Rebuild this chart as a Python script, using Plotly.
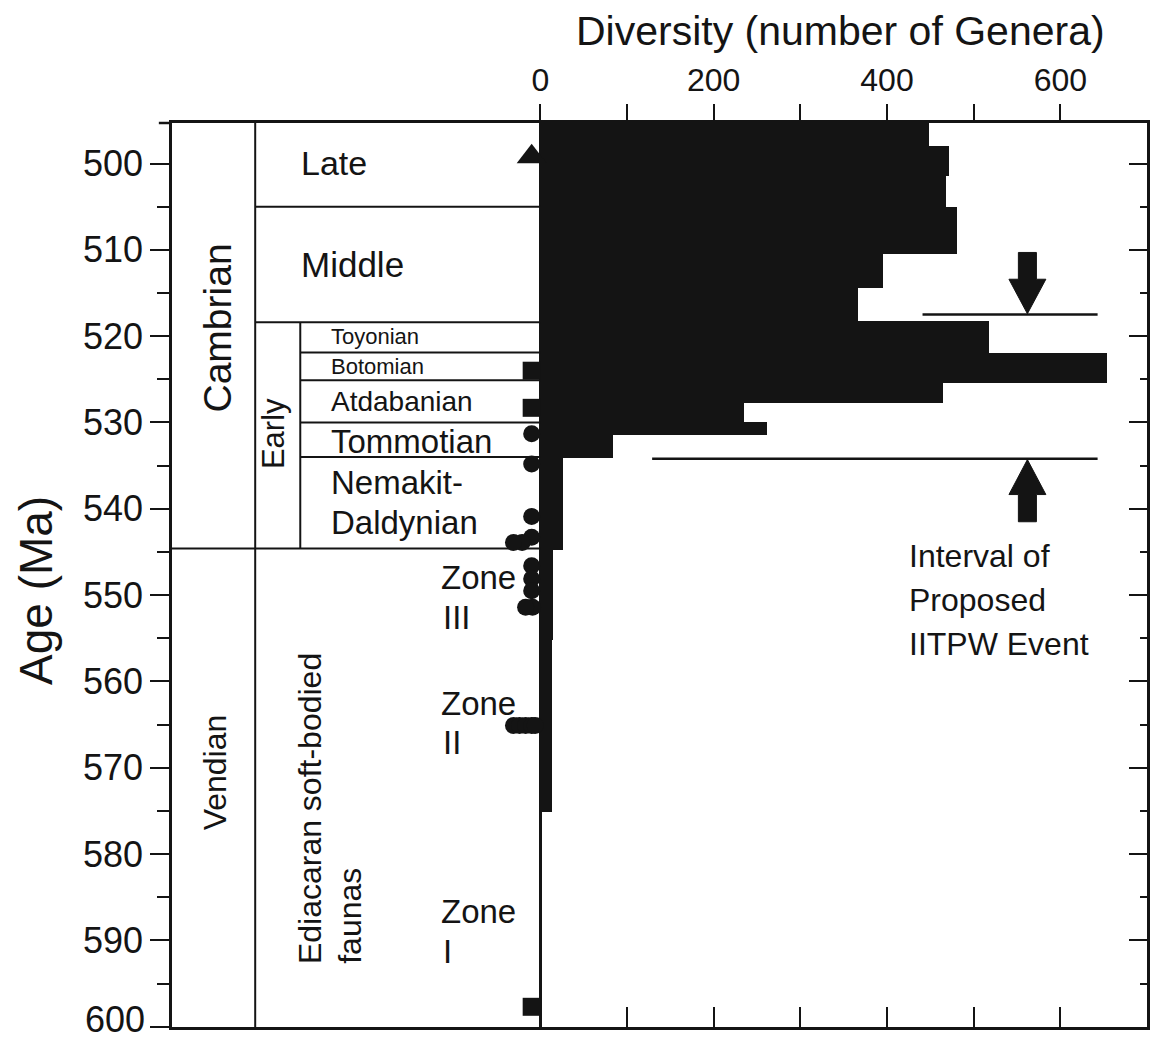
import plotly.graph_objects as go

# ---------------- data ----------------
# Diversity histogram: interval top / base (Ma) and number of genera
bin_top_ma = [495.0, 498.0, 501.4, 505.0, 510.5, 514.4, 518.2, 522.0, 525.4, 527.7, 529.9, 531.5, 534.1, 544.8, 555.2]
bin_base_ma = [498.0, 501.4, 505.0, 510.5, 514.4, 518.2, 522.0, 525.4, 527.7, 529.9, 531.5, 534.1, 544.8, 555.2, 575.1]
genera = [449, 471, 468, 481, 395, 366, 518, 654, 465, 235, 261, 84, 26, 15, 13]

# occurrence symbols left of the zero line
tri_age = [499.2]
tri_x = [-10]
sq_age = [524.0, 528.3, 597.7]
sq_x = [-10, -10, -10]
circ_age = [531.3, 534.8, 540.9, 543.3, 543.9, 543.9, 546.6, 548.1, 549.5, 551.4, 551.4,
            565.1, 565.1, 565.1, 565.1, 565.1]
circ_x = [-10, -10, -10, -10, -21, -31, -10, -10, -10, -9, -17,
          -31, -24, -17, -10, -6]

# axis ticks
x_tick_vals = [0, 100, 200, 300, 400, 500, 600]
x_tick_text = ["0", "", "200", "", "400", "", "600"]
y_major = list(range(500, 601, 10))
y_tick_text = [str(v) for v in y_major[:-1]] + [""]   # last label (600) drawn separately
y_last_label = str(y_major[-1])
y_minor = list(range(505, 600, 10))

# stratigraphic column boundaries (Ma)
late_middle = 505.0
middle_early = 518.4
toy_bot = 521.9
bot_atd = 525.1
atd_tom = 530.0
tom_nem = 534.0
camb_vend = 544.6

# IITPW interval
iitpw_top = 517.5
iitpw_base = 534.2

INK = "#141414"
FONT = "Liberation Sans, Arial, Helvetica, sans-serif"

centers = [(a + b) / 2 for a, b in zip(bin_top_ma, bin_base_ma)]
widths = [b - a for a, b in zip(bin_top_ma, bin_base_ma)]

fig = go.Figure()
fig.add_trace(go.Bar(
    y=centers, x=genera, width=widths, orientation="h",
    marker=dict(color=INK, line=dict(width=0)), showlegend=False, hoverinfo="skip"))
fig.add_trace(go.Scatter(x=tri_x, y=tri_age, mode="markers",
                         marker=dict(symbol="triangle-up", size=26, color=INK), showlegend=False))
fig.add_trace(go.Scatter(x=sq_x, y=sq_age, mode="markers",
                         marker=dict(symbol="square", size=18, color=INK), showlegend=False))
fig.add_trace(go.Scatter(x=circ_x, y=circ_age, mode="markers",
                         marker=dict(symbol="circle", size=17, color=INK), showlegend=False))
# invisible trace to activate the mirrored (inside-tick) axes
fig.add_trace(go.Scatter(x=[0], y=[550], xaxis="x2", yaxis="y2", mode="markers",
                         marker=dict(opacity=0), showlegend=False, hoverinfo="skip"))

XR = [-425, 700]
YR = [600.04, 495.3]

fig.update_layout(
    width=1153, height=1043,
    margin=dict(l=172, r=6, t=123, b=16),
    paper_bgcolor="white", plot_bgcolor="white",
    font=dict(family=FONT, color=INK),
    bargap=0,
    xaxis=dict(range=XR, side="top", tickmode="array", tickvals=x_tick_vals, ticktext=x_tick_text,
               ticks="outside", ticklen=16, tickwidth=2, tickcolor=INK,
               tickfont=dict(size=32, family=FONT, color=INK),
               showline=True, linewidth=2.5, linecolor=INK, showgrid=False,
               zeroline=True, zerolinewidth=2.5, zerolinecolor=INK, fixedrange=True),
    xaxis2=dict(range=XR, overlaying="x", side="bottom", anchor="y", tickmode="array",
                tickvals=x_tick_vals[1:], ticks="inside", ticklen=20, tickwidth=2, tickcolor=INK,
                showticklabels=False, showline=True, linewidth=2.5, linecolor=INK,
                showgrid=False, zeroline=False),
    yaxis=dict(range=YR, tickmode="array", tickvals=y_major, ticktext=y_tick_text,
               ticks="outside", ticklen=19,
               tickwidth=2, tickcolor=INK, tickfont=dict(size=36, family=FONT, color=INK),
               minor=dict(tickmode="array", tickvals=y_minor, ticks="outside", ticklen=12,
                          tickwidth=2, tickcolor=INK),
               showline=True, linewidth=2.5, linecolor=INK, showgrid=False, zeroline=False,
               automargin=False),
    yaxis2=dict(range=YR, overlaying="y", side="right", anchor="x", tickmode="array",
                tickvals=y_major, ticks="inside", ticklen=18, tickwidth=2, tickcolor=INK,
                minor=dict(tickmode="array", tickvals=y_minor, ticks="inside", ticklen=7,
                           tickwidth=2, tickcolor=INK),
                showticklabels=False, showline=True, linewidth=2.5, linecolor=INK,
                showgrid=False, zeroline=False),
)

shapes = []
def hline(y, x0, x1=0, w=2):
    shapes.append(dict(type="line", xref="x", yref="y", x0=x0, x1=x1, y0=y, y1=y,
                       line=dict(color=INK, width=w)))
def vline(x, y0, y1, w=2):
    shapes.append(dict(type="line", xref="x", yref="y", x0=x, x1=x, y0=y0, y1=y1,
                       line=dict(color=INK, width=w)))

COL_EPOCH = -329   # left edge of epoch/stage column
COL_STAGE = -277   # left edge of Early-Cambrian stage column
vline(COL_EPOCH, YR[1], YR[0])
vline(COL_STAGE, middle_early, camb_vend)
hline(late_middle, COL_EPOCH)
hline(middle_early, COL_EPOCH)
for b in [toy_bot, bot_atd, atd_tom, tom_nem]:
    hline(b, COL_STAGE)
hline(camb_vend, XR[0])

# IITPW interval lines
hline(iitpw_top, 441, 643, w=2.5)
hline(iitpw_base, 129, 643, w=2.5)

# arrows (filled polygons)
ax, sw, hw = 562, 10.4, 21.3
down = (f"M {ax-sw},510.3 L {ax+sw},510.3 L {ax+sw},513.4 L {ax+hw},513.4 "
        f"L {ax},517.4 L {ax-hw},513.4 L {ax-sw},513.4 Z")
up = (f"M {ax-sw},541.5 L {ax+sw},541.5 L {ax+sw},538.35 L {ax+hw},538.35 "
      f"L {ax},534.3 L {ax-hw},538.35 L {ax-sw},538.35 Z")
for p in [down, up]:
    shapes.append(dict(type="path", xref="x", yref="y", path=p, fillcolor=INK,
                       line=dict(color=INK, width=1)))
# small overhang of the top border to the left
shapes.append(dict(type="line", xref="paper", yref="paper", x0=-0.0135, x1=0, y0=1, y1=1,
                   line=dict(color=INK, width=2.5)))
fig.update_layout(shapes=shapes)

ann = []
def txt(x, y, s, size, xanchor="left", angle=0, yanchor="middle", xref="x", yref="y"):
    ann.append(dict(x=x, y=y, xref=xref, yref=yref, text=s, showarrow=False,
                    xanchor=xanchor, yanchor=yanchor, textangle=angle,
                    font=dict(size=size, family=FONT, color=INK)))

txt(-279, 499.9, "Late", 34)
txt(-279, 511.7, "Middle", 35)
txt(-244, 520.0, "Toyonian", 22)
txt(-244, 523.5, "Botomian", 22)
txt(-244, 527.6, "Atdabanian", 28)
txt(-244, 532.2, "Tommotian", 33)
txt(-244, 537.0, "Nemakit-", 33)
txt(-244, 541.6, "Daldynian", 33)
txt(-372, 519.0, "Cambrian", 39, xanchor="center", angle=-90)
txt(-308, 531.3, "Early", 31, xanchor="center", angle=-90)
txt(-375, 570.5, "Vendian", 32, xanchor="center", angle=-90)
txt(-266.5, 593.0, "Ediacaran soft-bodied", 32, xanchor="center", angle=-90, yanchor="bottom")
txt(-219, 593.0, "faunas", 32, xanchor="center", angle=-90, yanchor="bottom")
for zy, roman in [(548.0, "III"), (562.5, "II"), (586.7, "I")]:
    txt(-117, zy, "Zone", 33)
    txt(-115, zy + 4.6, roman, 33)
txt(423, 545.5, "Interval of", 32)
txt(423, 550.6, "Proposed", 32)
txt(423, 555.7, "IITPW Event", 32)

txt(0.686, 1.102, "Diversity (number of Genera)", 41, xanchor="center", xref="paper", yref="paper")
txt(-0.1395, 0.4834, "Age (Ma)", 46, xanchor="center", angle=-90, xref="paper", yref="paper")
# bottom y tick label, kept inside the page
txt(-0.0255, -0.0165, y_last_label, 36, xanchor="right", yanchor="bottom", xref="paper", yref="paper")
fig.update_layout(annotations=ann)

fig.write_html("out.html")
